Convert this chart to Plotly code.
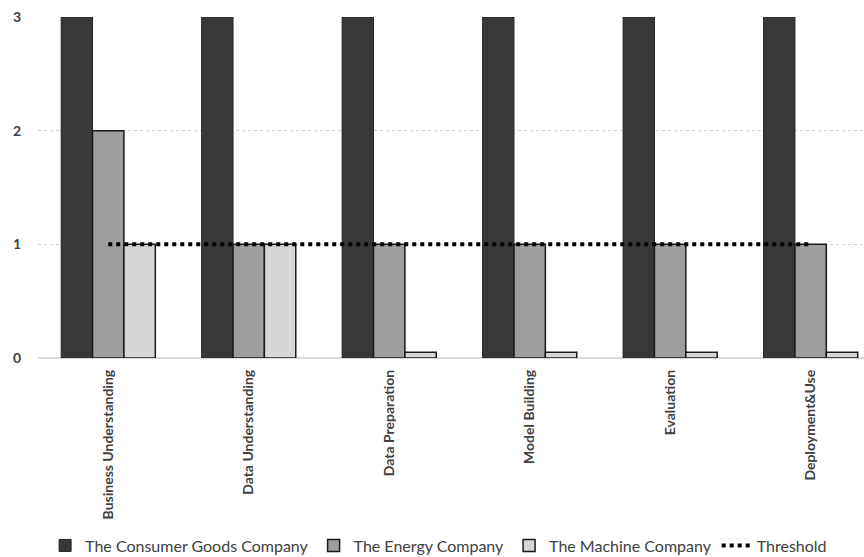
import plotly.graph_objects as go

categories = ["Business Understanding", "Data Understanding", "Data Preparation",
              "Model Building", "Evaluation", "Deployment&Use"]
consumer_goods = [3, 3, 3, 3, 3, 3]
energy = [2, 1, 1, 1, 1, 1]
machine = [1, 1, 0.05, 0.05, 0.05, 0.05]
threshold = [1, 1, 1, 1, 1, 1]

fig = go.Figure()
fig.add_trace(go.Bar(x=categories, y=consumer_goods, name="The Consumer Goods Company",
                     marker=dict(color="#383838", line=dict(color="#262626", width=1))))
fig.add_trace(go.Bar(x=categories, y=energy, name="The Energy Company",
                     marker=dict(color="#9e9e9e", line=dict(color="#1a1a1a", width=1.5))))
fig.add_trace(go.Bar(x=categories, y=machine, name="The Machine Company",
                     marker=dict(color="#d6d6d6", line=dict(color="#1a1a1a", width=1.5))))
fig.add_trace(go.Scatter(x=categories, y=threshold, name="Threshold", mode="lines",
                         line=dict(color="black", width=4, dash="4px,4px")))

fig.update_layout(
    width=864, height=557,
    margin=dict(l=38, r=0, t=17, b=199, autoexpand=False),
    paper_bgcolor="white", plot_bgcolor="white",
    barmode="group", bargap=0.33, bargroupgap=0,
    font=dict(family="Lato, Open Sans, sans-serif", color="#404040"),
    xaxis=dict(range=[-0.5, 5.38], tickangle=-90, showgrid=False, automargin=False,
               tickfont=dict(size=14, family="Lato", color="#404040", weight="bold"),
               showline=False, ticks="", zeroline=False, ticklabelstandoff=8),
    yaxis=dict(range=[0, 3], tickvals=[0, 1, 2, 3], showgrid=True, automargin=False,
               gridcolor="#cfcfcf", griddash="dot", gridwidth=1,
               zeroline=True, zerolinecolor="#d9d9d9", zerolinewidth=2,
               tickfont=dict(size=14, family="Lato", color="#404040", weight="bold"),
               ticks="", ticklabelstandoff=16),
    legend=dict(orientation="h", x=0.485, xanchor="center", y=-0.55, yanchor="middle",
                font=dict(size=16, family="Lato", color="#404040"),
                itemwidth=30, traceorder="normal"),
    showlegend=True,
)

fig.write_html("out.html")
